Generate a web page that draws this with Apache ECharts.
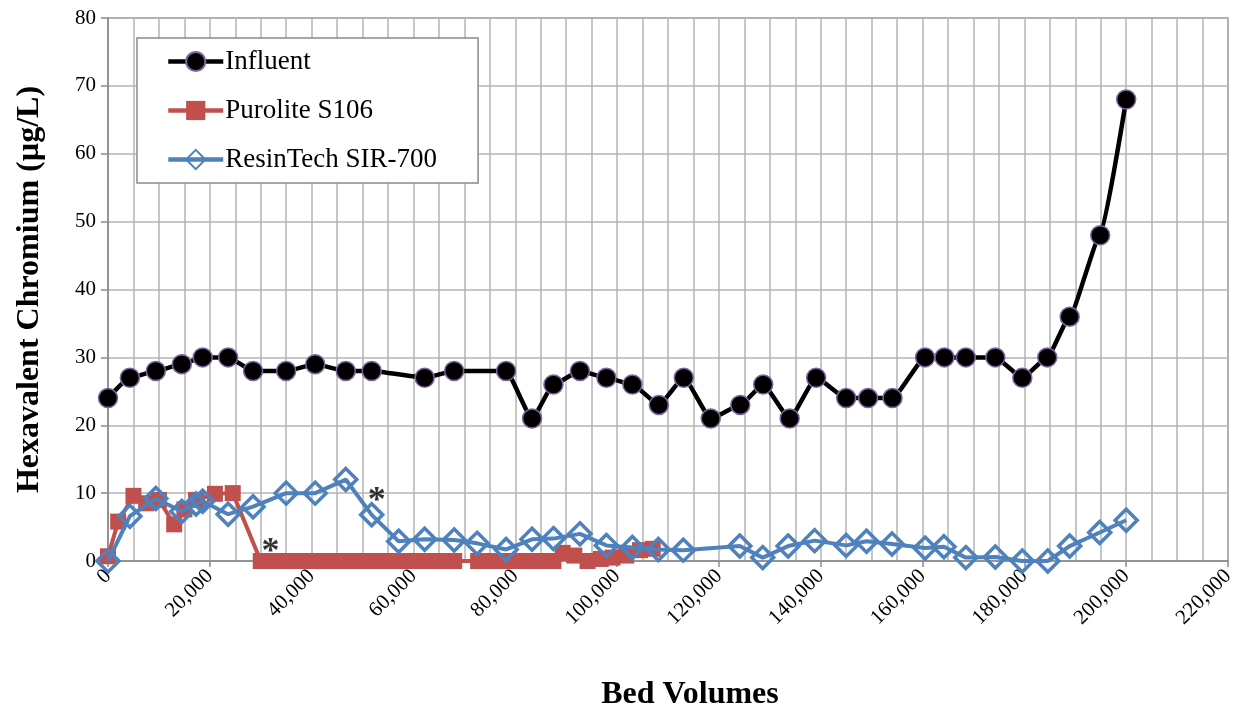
<!DOCTYPE html>
<html>
<head>
<meta charset="utf-8">
<script src="https://cdn.jsdelivr.net/npm/echarts@6/dist/echarts.min.js"></script>
<style>html,body{margin:0;padding:0;background:#fff}#c{width:1245px;height:713px}</style>
</head>
<body>
<div id="c"></div>
<script>
// Data (Bed Volumes, µg/L)
const influentX = [0,4300,9400,14500,18600,23600,28500,35000,40700,46700,51800,62200,68000,78200,83300,87500,92700,97900,103000,108200,113100,118400,124200,128700,133900,139100,145000,149300,154100,160500,164300,168500,174300,179600,184500,188900,194900,200000];
const influentY = [24,27,28,29,30,30,28,28,29,28,28,27,28,28,21,26,28,27,26,23,27,21,23,26,21,27,24,24,24,30,30,30,30,27,30,36,48,68];

const puroliteX = [0,2000,5000,7500,10000,13000,15000,17300,21000,24500,30000,32500,35000,37500,40000,42500,45000,47500,50000,52500,55000,57500,60000,62500,65000,68000,72700,75000,77500,80000,82500,85000,87500,89300,91600,94200,96800,99100,101800,104500,107000];
const puroliteY = [0.7,5.8,9.6,8.5,9.0,5.4,7.6,9.0,9.9,10.0,0,0,0,0,0,0,0,0,0,0,0,0,0,0,0,0,0,0,0,0,0,0,0,1.2,0.8,0,0.3,0.5,0.8,1.6,1.8];

const resinX = [0,4300,9400,14500,17300,18600,23600,28500,35000,40700,46700,51800,57100,62200,68000,72500,78200,83300,87500,92700,97900,103000,108100,113000,124100,128600,133600,138800,145000,149000,154000,160500,164200,168500,174300,179600,184600,188900,194800,200000];
const resinY = [0,6.6,9.2,7.3,8.4,8.8,6.9,8.0,10.0,10.0,12.0,6.8,2.9,3.2,3.1,2.6,1.7,3.2,3.3,4.0,2.3,2.0,1.7,1.6,2.2,0.5,2.2,3.0,2.3,2.9,2.5,1.9,2.1,0.5,0.6,0.0,0.0,2.2,4.2,6.0];

const noteX = [31900, 52800];
const noteY = [1.2, 8.8];
const noteText = ['*', '*'];

const seriesNames = ['Influent', 'Purolite S106', 'ResinTech SIR-700'];
const xTitle = 'Bed Volumes';
const yTitle = 'Hexavalent Chromium (µg/L)';

const zip = (xs, ys) => xs.map((x, i) => [x, ys[i]]);
const FONT = '"Liberation Serif","Times New Roman",serif';

const chart = echarts.init(document.getElementById('c'), null, {renderer: 'canvas'});
chart.setOption({
  animation: false,
  backgroundColor: '#fff',
  textStyle: {fontFamily: FONT},
  grid: {left: 108, right: 17, top: 18, bottom: 152, show: true, borderColor: '#8a8a8a', borderWidth: 1.5,
    containLabel: false, outerBoundsMode: 'none'},
  legend: {
    data: seriesNames,
    orient: 'vertical',
    left: 137, top: 38,
    padding: [10, 41, 10, 29],
    itemGap: 22,
    itemWidth: 55, itemHeight: 24,
    backgroundColor: '#fff',
    borderColor: '#8a8a8a', borderWidth: 1.5,
    lineStyle: {width: 4.5},
    textStyle: {fontFamily: FONT, fontSize: 27, color: '#000', padding: [0, 0, 0, -3]}
  },
  xAxis: {
    type: 'value', min: 0, max: 220000, interval: 20000,
    name: xTitle, nameLocation: 'middle', nameGap: 118,
    nameTextStyle: {fontFamily: FONT, fontSize: 32, fontWeight: 'bold', color: '#000', padding: [0, 0, 0, 44]},
    axisLine: {show: true, lineStyle: {color: '#8a8a8a', width: 1.5}},
    axisTick: {show: true, length: 6, lineStyle: {color: '#8a8a8a', width: 1.5}},
    minorTick: {show: false, splitNumber: 4},
    splitLine: {show: true, lineStyle: {color: '#b4b4b4', width: 1.5}},
    minorSplitLine: {show: true, lineStyle: {color: '#b4b4b4', width: 1.5}},
    axisLabel: {rotate: 45, fontFamily: FONT, fontSize: 21, color: '#000', margin: 12,
      formatter: v => v.toLocaleString('en-US')}
  },
  yAxis: {
    type: 'value', min: 0, max: 80, interval: 10,
    name: yTitle, nameLocation: 'middle', nameGap: 62, nameRotate: 90,
    nameTextStyle: {fontFamily: FONT, fontSize: 32, fontWeight: 'bold', color: '#000'},
    axisLine: {show: true, lineStyle: {color: '#8a8a8a', width: 1.5}},
    axisTick: {show: true, length: 7, lineStyle: {color: '#8a8a8a', width: 1.5}},
    splitLine: {show: true, lineStyle: {color: '#b4b4b4', width: 1.5}},
    axisLabel: {fontFamily: FONT, fontSize: 21, color: '#000', margin: 12}
  },
  series: [
    {
      name: seriesNames[1], type: 'line', data: zip(puroliteX, puroliteY),
      symbol: 'rect', symbolSize: 16,
      lineStyle: {color: '#C0504D', width: 4},
      itemStyle: {color: '#C0504D'}, z: 2
    },
    {
      name: seriesNames[2], type: 'line', data: zip(resinX, resinY),
      symbol: 'diamond', symbolSize: 22,
      lineStyle: {color: '#4F81BD', width: 4},
      itemStyle: {color: 'rgba(255,255,255,0)', borderColor: '#4F81BD', borderWidth: 3.5}, z: 3
    },
    {
      name: seriesNames[0], type: 'line', data: zip(influentX, influentY),
      symbol: 'circle', symbolSize: 19, smooth: 0.15, smoothMonotone: 'x',
      lineStyle: {color: '#000', width: 4.5},
      itemStyle: {color: '#000', borderColor: '#8064A2', borderWidth: 1.5}, z: 4
    },
    {
      name: 'notes', type: 'scatter', data: zip(noteX, noteY).map((p, i) => ({value: p, label: {formatter: noteText[i]}})),
      symbolSize: 0, silent: true,
      label: {show: true, position: 'inside', fontFamily: FONT, fontSize: 36, fontWeight: 'bold', color: '#000'}, z: 5
    }
  ]
});
</script>
</body>
</html>
